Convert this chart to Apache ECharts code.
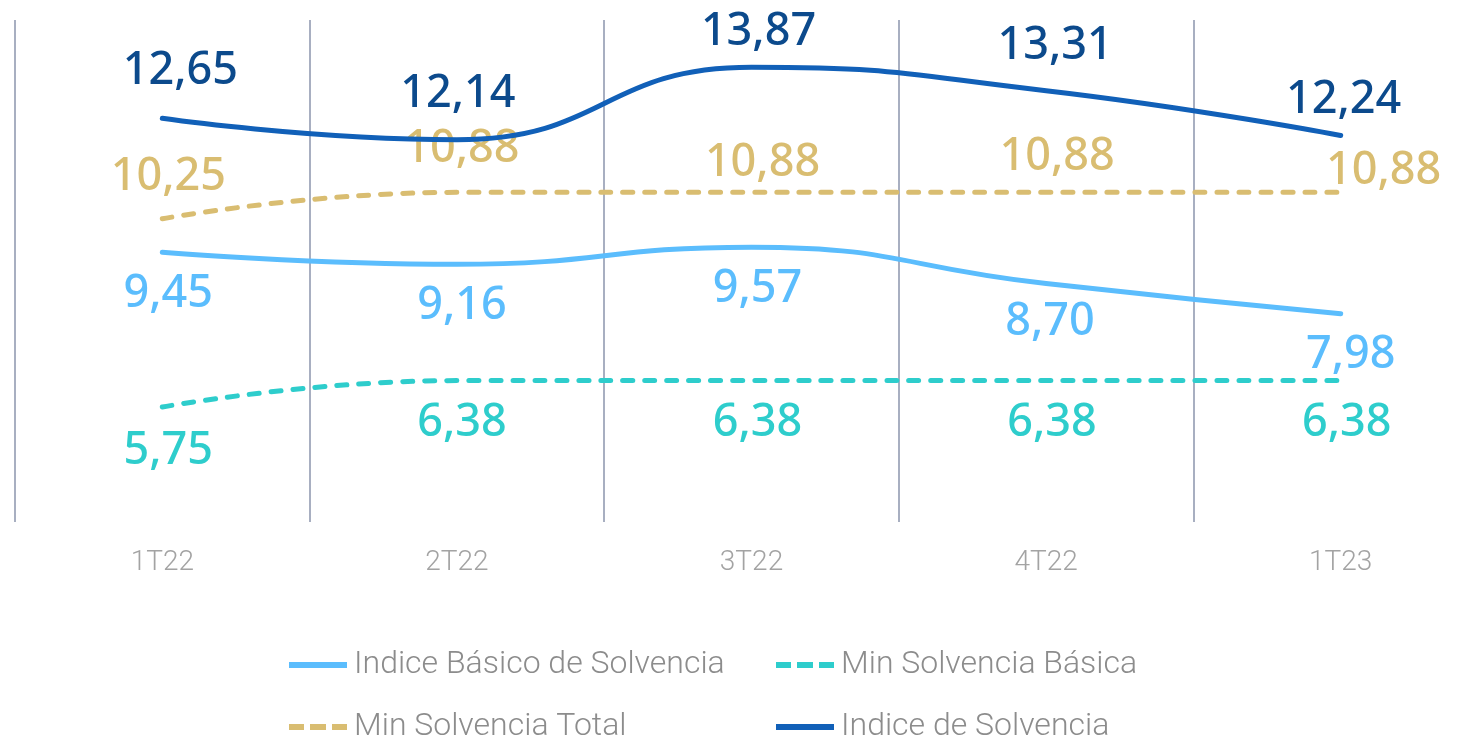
<!DOCTYPE html>
<html><head><meta charset="utf-8">
<script src="https://cdn.jsdelivr.net/npm/echarts@6/dist/echarts.min.js"></script>
<style>html,body{margin:0;padding:0;background:#fff;overflow:hidden;width:1474px;height:740px}#c{width:1488px;height:740px}</style>
</head><body><div id="c"></div>
<script>
const categories = ['1T22','2T22','3T22','4T22','1T23'];
const indiceBasico = [9.45, 9.16, 9.57, 8.70, 7.98];
const minBasica = [5.75, 6.38, 6.38, 6.38, 6.38];
const minTotal = [10.25, 10.88, 10.88, 10.88, 10.88];
const indiceSolvencia = [12.65, 12.14, 13.87, 13.31, 12.24];

// label offsets (style only)
const offSolv = [[18,-47],[1,-45],[7,-35],[9,-45],[3,-35]];
const offTotal = [[6,-42],[5,-43],[11,-29],[11,-35],[43,-21]];
const offBasico = [[6,42],[5,42],[6,42],[4,39],[10,42]];
const offMinB = [[6,44],[5,43],[6,43],[6,43],[6,43]];

const fmt = v => v.toFixed(2).replace('.', ',');
const labelFont = {fontFamily:'"Noto Sans", sans-serif', fontWeight:500, fontSize:45};

function mk(name, vals, offs, color, lineColor, dashed, z) {
  return {
    name, type:'line', smooth:0.5, z,
    symbol:'circle', symbolSize:0.01, showSymbol:true,
    itemStyle:{color: lineColor},
    lineStyle:{color: lineColor, width:5, type: dashed ? [10,12] : 'solid', cap:'round'},
    data: vals.map((v,i)=>({value:v, label:{offset:offs[i]}})),
    label:Object.assign({show:true, position:'inside', align:'center', verticalAlign:'middle',
      color, formatter:p=>fmt(p.value)}, labelFont),
    emphasis:{disabled:true}
  };
}

const solidIcon = 'rect';
const dashIcon = 'path://M0,0h15v6h-15z M21,0h16v6h-16z M43,0h15v6h-15z';
const legendText = {fontFamily:'Roboto, sans-serif', fontSize:32, color:'#8c8c8c', fontWeight:300, padding:[0,0,0,2]};
function lg(name, icon, left, top) {
  return {data:[{name, icon}], left, top, itemWidth:58, itemHeight:6, textStyle:legendText, selectedMode:false};
}

const chart = echarts.init(document.getElementById('c'));
chart.setOption({
  animation:false,
  grid:{left:15, right:0, top:20, bottom:218},
  xAxis:{type:'category', data:categories, boundaryGap:true,
    axisLine:{show:false}, axisTick:{show:false},
    splitLine:{show:true, interval:0, lineStyle:{color:'#8b95ad', width:1.5}},
    axisLabel:{interval:0, margin:27, color:'#a3a3a3', fontSize:28, fontFamily:'Roboto, sans-serif', fontWeight:300}},
  yAxis:{type:'value', min:3, max:15, show:false, splitLine:{show:false}},
  legend:[
    lg('Indice Básico de Solvencia', solidIcon, 284, 644),
    lg('Min Solvencia Total', dashIcon, 284, 706),
    lg('Min Solvencia Básica', dashIcon, 771, 644),
    lg('Indice de Solvencia', solidIcon, 771, 706)
  ],
  series:[
    mk('Indice Básico de Solvencia', indiceBasico, offBasico, '#5bbdfd', '#5bbdfd', false, 3),
    mk('Min Solvencia Básica', minBasica, offMinB, '#2ecdcc', '#2ecdcc', true, 2),
    mk('Min Solvencia Total', minTotal, offTotal, '#d9bd71', '#d9bd71', true, 2),
    mk('Indice de Solvencia', indiceSolvencia, offSolv, '#0c4a8c', '#1160b8', false, 4)
  ]
});
</script></body></html>
